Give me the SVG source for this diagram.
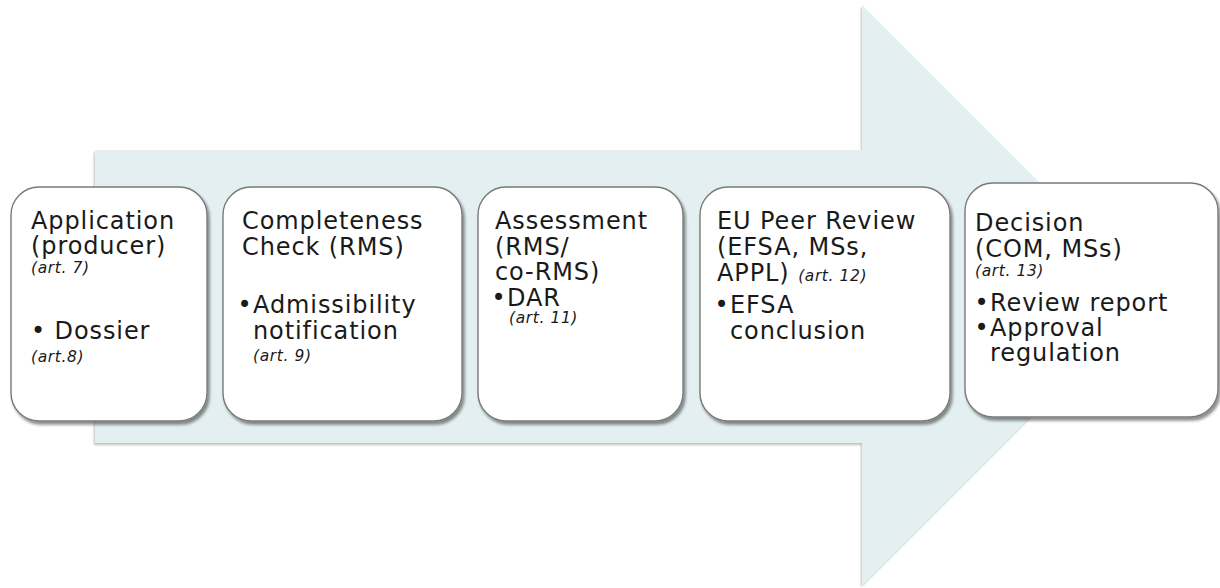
<svg xmlns="http://www.w3.org/2000/svg" width="1220" height="588" viewBox="0 0 1220 588">
  <defs>
    <filter id="shadow" x="-10%" y="-10%" width="125%" height="125%">
      <feGaussianBlur in="SourceAlpha" stdDeviation="1.6"/>
      <feOffset dx="1.5" dy="2.5" result="b"/>
      <feComponentTransfer><feFuncA type="linear" slope="0.45"/></feComponentTransfer>
      <feMerge><feMergeNode/><feMergeNode in="SourceGraphic"/></feMerge>
    </filter>
    <filter id="softShadow" x="-5%" y="-5%" width="110%" height="110%">
      <feGaussianBlur in="SourceAlpha" stdDeviation="1.2"/>
      <feOffset dx="-1" dy="1.5" result="b"/>
      <feComponentTransfer><feFuncA type="linear" slope="0.25"/></feComponentTransfer>
      <feMerge><feMergeNode/><feMergeNode in="SourceGraphic"/></feMerge>
    </filter>
  </defs>
  <style>
    .box { fill: #ffffff; stroke: #7a7a7a; stroke-width: 1.4; filter: url(#shadow); }
    .t { font-family: "DejaVu Sans", "Liberation Sans", sans-serif; font-size: 24px; fill: #1a1a1a; letter-spacing: 0.9px; }
    .art { font-size: 15.5px; font-style: italic; letter-spacing: 0.6px; }
  </style>
  <rect width="1220" height="588" fill="#ffffff"/>

  <!-- big process arrow behind the steps -->
  <g id="connectors">
    <path d="M95 150 H862 V5 L1152 295 L862 585 V443 H95 Z" fill="#e3eff1" filter="url(#softShadow)"/>
  </g>

  <g id="step-application">
    <rect class="box" x="11" y="187" width="196" height="234" rx="28"/>
    <text class="t">
      <tspan x="31" y="229">Application</tspan>
      <tspan x="31" y="254">(producer)</tspan>
      <tspan class="art" x="31" y="273">(art. 7)</tspan>
      <tspan x="31" y="339">• Dossier</tspan>
      <tspan class="art" x="31" y="362">(art.8)</tspan>
    </text>
  </g>

  <g id="step-completeness">
    <rect class="box" x="223" y="187" width="239" height="234" rx="28"/>
    <text class="t">
      <tspan x="242" y="229">Completeness</tspan>
      <tspan x="242" y="255">Check (RMS)</tspan>
      <tspan x="237.5" y="313">•</tspan><tspan x="253" y="313">Admissibility</tspan>
      <tspan x="253" y="339">notification</tspan>
      <tspan class="art" x="253" y="361">(art. 9)</tspan>
    </text>
  </g>

  <g id="step-assessment">
    <rect class="box" x="478" y="187" width="205" height="234" rx="28"/>
    <text class="t">
      <tspan x="495" y="229">Assessment</tspan>
      <tspan x="495" y="255">(RMS/</tspan>
      <tspan x="495" y="280">co-RMS)</tspan>
      <tspan x="491.5" y="306">•</tspan><tspan x="507" y="306">DAR</tspan>
      <tspan class="art" x="509" y="323">(art. 11)</tspan>
    </text>
  </g>

  <g id="step-peer-review">
    <rect class="box" x="700" y="187" width="250" height="234" rx="28"/>
    <text class="t">
      <tspan x="717" y="229">EU Peer Review</tspan>
      <tspan x="717" y="255">(EFSA, MSs,</tspan>
      <tspan x="717" y="281">APPL) </tspan><tspan class="art">(art. 12)</tspan>
      <tspan x="714.5" y="313">•</tspan><tspan x="730" y="313">EFSA</tspan>
      <tspan x="730" y="339">conclusion</tspan>
    </text>
  </g>

  <g id="step-decision">
    <rect class="box" x="965" y="183" width="253" height="234" rx="28"/>
    <text class="t">
      <tspan x="975" y="231">Decision</tspan>
      <tspan x="975" y="257">(COM, MSs)</tspan>
      <tspan class="art" x="975" y="276">(art. 13)</tspan>
      <tspan x="974.5" y="311">•</tspan><tspan x="990" y="311">Review report</tspan>
      <tspan x="974.5" y="336">•</tspan><tspan x="990" y="336">Approval</tspan>
      <tspan x="990" y="361">regulation</tspan>
    </text>
  </g>
</svg>
